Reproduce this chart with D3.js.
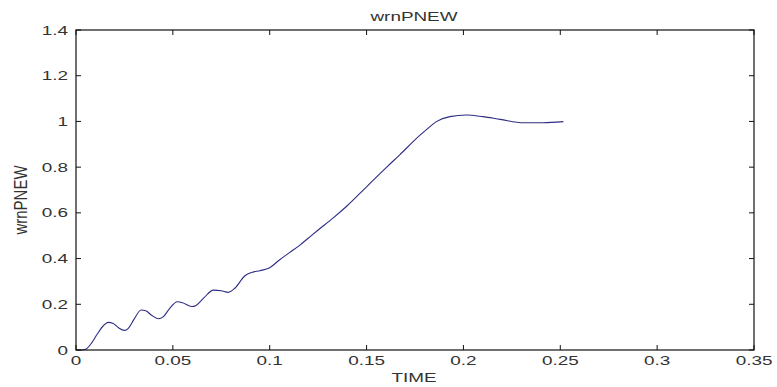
<!DOCTYPE html>
<html>
<head>
<meta charset="utf-8">
<script src="https://cdn.jsdelivr.net/npm/d3@7/dist/d3.min.js"></script>
<style>
  html, body { margin: 0; padding: 0; background: #fff; }
  svg { display: block; }
  text { font-family: "Liberation Sans", Arial, sans-serif; fill: #333; }
</style>
</head>
<body>
<svg id="chart" width="777" height="387"></svg>
<script>
// Simulated response of wrnPNEW over time
const timeValues = [0, 0.003, 0.0047, 0.008, 0.011, 0.014, 0.0167, 0.019, 0.022, 0.025,
  0.027, 0.030, 0.0336, 0.036, 0.039, 0.0425, 0.045, 0.048, 0.0523, 0.055,
  0.0597, 0.062, 0.066, 0.0709, 0.075, 0.0786, 0.082, 0.0872, 0.091, 0.095,
  0.100, 0.105, 0.110, 0.1156, 0.120, 0.125, 0.1328, 0.140, 0.150, 0.160,
  0.167, 0.1776, 0.182, 0.186, 0.193, 0.2017, 0.210, 0.219, 0.231, 0.241, 0.2516];
const wrnValues = [0, 0, 0.002, 0.03, 0.07, 0.105, 0.121, 0.117, 0.097, 0.086,
  0.095, 0.135, 0.175, 0.172, 0.152, 0.137, 0.145, 0.178, 0.211, 0.207,
  0.190, 0.195, 0.228, 0.262, 0.259, 0.252, 0.270, 0.325, 0.340, 0.347,
  0.360, 0.394, 0.425, 0.459, 0.490, 0.525, 0.578, 0.631, 0.714, 0.797,
  0.853, 0.940, 0.972, 0.999, 1.021, 1.028, 1.021, 1.009, 0.994, 0.994, 0.999];

const xTicks = [0, 0.05, 0.1, 0.15, 0.2, 0.25, 0.3, 0.35];
const xTickLabels = ["0", "0.05", "0.1", "0.15", "0.2", "0.25", "0.3", "0.35"];
const yTicks = [0, 0.2, 0.4, 0.6, 0.8, 1, 1.2, 1.4];
const yTickLabels = ["0", "0.2", "0.4", "0.6", "0.8", "1", "1.2", "1.4"];

const titleText = "wrnPNEW";
const xLabelText = "TIME";
const yLabelText = "wrnPNEW";

const svg = d3.select("#chart");
const box = { left: 76, right: 754, top: 30, bottom: 350 };
const stretch = 1.5;

const x = d3.scaleLinear().domain([0, 0.35]).range([box.left, box.right]);
const y = d3.scaleLinear().domain([0, 1.4]).range([box.bottom, box.top]);

// Data line
const pts = timeValues.map((t, i) => [t, wrnValues[i]]);
svg.append("path")
  .datum(pts)
  .attr("fill", "none")
  .attr("stroke", "#2d2d85")
  .attr("stroke-width", 1.1)
  .attr("d", d3.line().x(d => x(d[0])).y(d => y(d[1])).curve(d3.curveMonotoneX));

// Axes box
svg.append("rect")
  .attr("x", box.left).attr("y", box.top)
  .attr("width", box.right - box.left).attr("height", box.bottom - box.top)
  .attr("fill", "none").attr("stroke", "#111").attr("stroke-width", 1.2);

const tickLen = 5;
const ticks = svg.append("g").attr("stroke", "#111").attr("stroke-width", 1);

xTicks.forEach(t => {
  const px = x(t);
  ticks.append("line").attr("x1", px).attr("x2", px).attr("y1", box.bottom).attr("y2", box.bottom - tickLen);
  ticks.append("line").attr("x1", px).attr("x2", px).attr("y1", box.top).attr("y2", box.top + tickLen);
});
yTicks.forEach(v => {
  const py = y(v);
  ticks.append("line").attr("x1", box.left).attr("x2", box.left + tickLen).attr("y1", py).attr("y2", py);
  ticks.append("line").attr("x1", box.right).attr("x2", box.right - tickLen).attr("y1", py).attr("y2", py);
});

// Tick labels (wide lettering)
xTicks.forEach((t, i) => {
  svg.append("text")
    .attr("transform", `translate(${x(t)},365) scale(${stretch},1)`)
    .attr("text-anchor", "middle")
    .attr("font-size", 12.6)
    .text(xTickLabels[i]);
});
yTicks.forEach((v, i) => {
  svg.append("text")
    .attr("transform", `translate(68,${y(v) + 4.5}) scale(${stretch},1)`)
    .attr("text-anchor", "end")
    .attr("font-size", 12.6)
    .text(yTickLabels[i]);
});

// Title and axis labels
svg.append("text")
  .attr("transform", `translate(${(box.left + box.right) / 2 - 1},20.7) scale(${stretch},1)`)
  .attr("text-anchor", "middle").attr("font-size", 12.6)
  .text(titleText);

svg.append("text")
  .attr("transform", `translate(${(box.left + box.right) / 2 - 1},382) scale(${stretch},1)`)
  .attr("text-anchor", "middle").attr("font-size", 12.6)
  .text(xLabelText);

svg.append("text")
  .attr("transform", `translate(26.5,200) rotate(-90) scale(1,1.25)`)
  .attr("text-anchor", "middle").attr("font-size", 15)
  .text(yLabelText);
</script>
</body>
</html>
